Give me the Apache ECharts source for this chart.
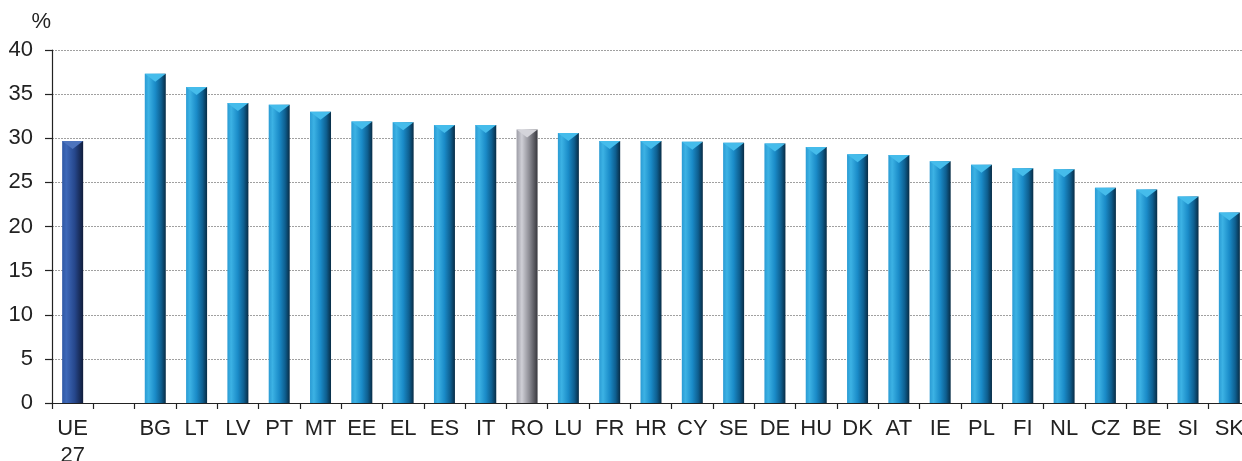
<!DOCTYPE html>
<html>
<head>
<meta charset="utf-8">
<script src="https://cdn.jsdelivr.net/npm/echarts@6/dist/echarts.min.js"></script>
<style>
  html, body { margin: 0; padding: 0; background: #fff; }
  #chart { width: 1242px; height: 461px; }
</style>
</head>
<body>
<div id="chart"></div>
<script>
// categories (the empty one is the gap after the EU average)
var categories = ['UE\n27', '', 'BG', 'LT', 'LV', 'PT', 'MT', 'EE', 'EL', 'ES', 'IT', 'RO', 'LU', 'FR', 'HR',
    'CY', 'SE', 'DE', 'HU', 'DK', 'AT', 'IE', 'PL', 'FI', 'NL', 'CZ', 'BE', 'SI', 'SK'];
// values in %
var values = [29.7, null, 37.3, 35.8, 34.0, 33.8, 33.0, 31.9, 31.8, 31.5, 31.5, 31.0, 30.6, 29.7, 29.7,
    29.6, 29.5, 29.4, 29.0, 28.2, 28.1, 27.4, 27.0, 26.6, 26.5, 24.4, 24.2, 23.4, 21.6];
var yTicks = { min: 0, max: 40, step: 5 };

function grad(stops) {
    return new echarts.graphic.LinearGradient(0, 0, 1, 0, stops.map(function (c) {
        return { offset: c[0], color: c[1] };
    }));
}
var bodyBlue = [[0, '#2a9bd4'], [0.18, '#3cb2e4'], [0.5, '#1a8bc8'], [0.78, '#0e5f90'], [1, '#082c45']];
var bodyEU = [[0, '#2f58a4'], [0.2, '#3d68b8'], [0.6, '#26478c'], [1, '#101c3a']];
var bodyRO = [[0, '#9d9da6'], [0.25, '#cfcfd6'], [0.6, '#8d8d95'], [1, '#38383e']];

function styleFor(cat) {
    if (cat === 'UE\n27') return { body: bodyEU, cap: '#4d74bd' };
    if (cat === 'RO') return { body: bodyRO, cap: '#d4d4da' };
    return { body: bodyBlue, cap: '#45bceb' };
}

var barData = values.map(function (v, i) {
    if (v === null) return '-';
    return { value: v, itemStyle: { color: grad(styleFor(categories[i]).body) } };
});
var capData = values.map(function (v, i) {
    if (v === null) return '-';
    return { value: v, itemStyle: { color: styleFor(categories[i]).cap } };
});

var chart = echarts.init(document.getElementById('chart'));
chart.setOption({
    animation: false,
    textStyle: { fontFamily: 'Liberation Sans, Arial, sans-serif' },
    grid: { left: 52, right: -8, top: 50, bottom: 58, containLabel: false, outerBoundsMode: 'none' },
    xAxis: {
        type: 'category',
        data: categories,
        axisLine: { lineStyle: { color: '#222', width: 1.2 } },
        axisTick: { show: true, length: 6, lineStyle: { color: '#222', width: 1.2 } },
        axisLabel: { color: '#222', fontSize: 22, margin: 12, lineHeight: 27, interval: 0 },
        splitLine: { show: false }
    },
    yAxis: {
        type: 'value',
        min: yTicks.min,
        max: yTicks.max,
        interval: yTicks.step,
        name: '%',
        nameGap: 17,
        nameTextStyle: { color: '#222', fontSize: 22, align: 'right', padding: [0, 1, 0, 0] },
        axisLine: { show: true, lineStyle: { color: '#222', width: 1.2 } },
        axisTick: { show: true, length: 7, lineStyle: { color: '#222', width: 1.2 } },
        axisLabel: { color: '#222', fontSize: 22, margin: 19 },
        splitLine: { show: true, lineStyle: { color: '#a0a0a0', type: [2, 1], width: 1 } }
    },
    series: [
        {
            type: 'bar',
            data: barData,
            barWidth: 21,
            z: 2
        },
        {
            type: 'pictorialBar',
            data: capData,
            symbol: 'path://M0,0 L20,0 L10,8 Z',
            symbolSize: [21, 8],
            symbolPosition: 'end',
            z: 3,
            silent: true
        }
    ]
});
</script>
</body>
</html>
